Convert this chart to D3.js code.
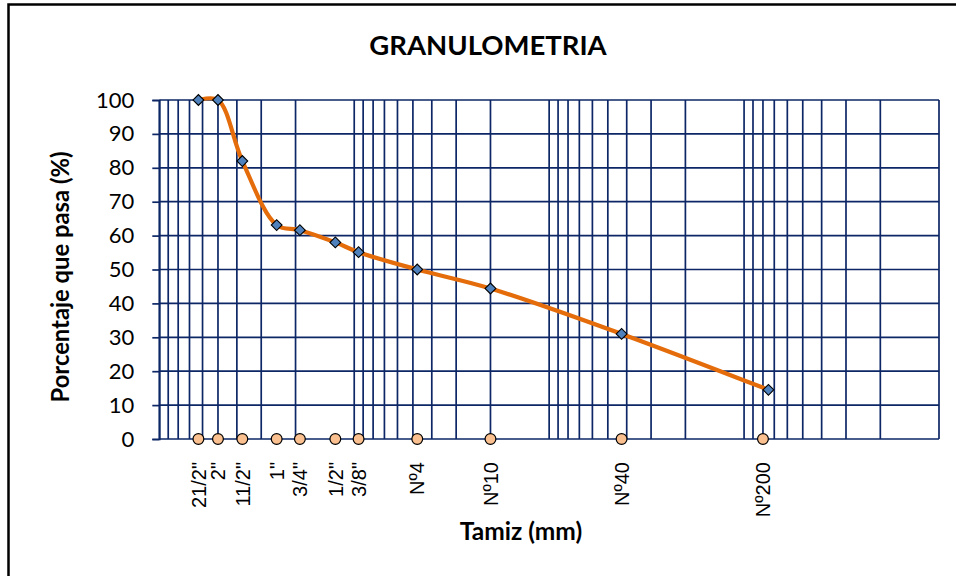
<!DOCTYPE html>
<html><head><meta charset="utf-8">
<script src="https://cdn.jsdelivr.net/npm/d3@7"></script>
<style>body{margin:0;background:#fff}svg{display:block}</style>
</head><body><svg id="c" width="956" height="576"></svg>
<script>
// ---- data ----
const sieveLabels = ['21/2"', '2"', '11/2"', '1"', '3/4"', '1/2"', '3/8"', 'Nº4', 'Nº10', 'Nº40', 'Nº200'];
const sieveSizes = [63, 50, 37.5, 25, 19, 12.5, 9.5, 4.75, 2.0, 0.425, 0.075];
const labelSizes = [63, 50, 37.5, 25, 19, 12.5, 9.5, 4.75, 2.0, 0.425, 0.08];
const percentPassing = [100, 100, 82, 63.1, 61.6, 58.0, 55.1, 50.0, 44.4, 31.0, 14.5];
const baseValues = [0, 0, 0, 0, 0, 0, 0, 0, 0, 0, 0];
const yTicks = [0, 10, 20, 30, 40, 50, 60, 70, 80, 90, 100];
const xDomain = [100, 0.01];
const yDomain = [0, 100];

// ---- layout ----
const svg = d3.select('#c');
const L = 159.3, R = 939, T = 100, B = 439;
const navy = '#0d2766';
const x = d3.scaleLog().domain(xDomain).range([L, R]);
const y = d3.scaleLinear().domain(yDomain).range([B, T]);

// outer frame (only top/left visible)
svg.append('rect').attr('x', 8.5).attr('y', 4.5).attr('width', 990).attr('height', 600)
  .attr('fill', '#fff').attr('stroke', '#000').attr('stroke-width', 2.5);

// vertical grid (log minor ticks)
svg.append('g').selectAll('line').data(x.ticks()).join('line')
  .attr('x1', d => x(d)).attr('x2', d => x(d)).attr('y1', T).attr('y2', B)
  .attr('stroke', navy).attr('stroke-width', 1.7);

// horizontal grid
svg.append('g').selectAll('line').data(yTicks).join('line')
  .attr('x1', L).attr('x2', R).attr('y1', d => y(d)).attr('y2', d => y(d))
  .attr('stroke', navy).attr('stroke-width', 1.7);

// y axis
const yAxis = svg.append('g').attr('transform', `translate(${L},0)`)
  .call(d3.axisLeft(y).tickValues(yTicks).tickSize(7).tickPadding(18));
yAxis.select('.domain').attr('stroke', navy).attr('stroke-width', 1.7);
yAxis.selectAll('.tick line').attr('stroke', navy).attr('stroke-width', 1.7);
yAxis.selectAll('.tick text').attr('font-family', 'Lato, sans-serif').attr('font-size', 22)
  .attr('fill', '#000');

// curve
const line = d3.line().x((d, i) => x(sieveSizes[i])).y(d => y(d)).curve(d3.curveCatmullRom.alpha(0.5));
svg.append('path').datum(percentPassing).attr('d', line)
  .attr('fill', 'none').attr('stroke', '#E46C0A').attr('stroke-width', 4.2);

// diamonds
const diamond = d3.symbol(d3.symbolSquare, 58);
svg.append('g').selectAll('path').data(percentPassing).join('path')
  .attr('d', diamond)
  .attr('transform', (d, i) => `translate(${x(sieveSizes[i])},${y(d)}) rotate(45)`)
  .attr('fill', '#4F81BD').attr('stroke', '#000').attr('stroke-width', 1.1);

// baseline circles
svg.append('g').selectAll('circle').data(baseValues).join('circle')
  .attr('cx', (d, i) => x(labelSizes[i])).attr('cy', d => y(d)).attr('r', 5.4)
  .attr('fill', '#FBC08F').attr('stroke', '#000').attr('stroke-width', 1.2);

// sieve labels
svg.append('g').selectAll('text').data(sieveLabels).join('text')
  .attr('transform', (d, i) => `translate(${x(labelSizes[i])},462) rotate(-90)`)
  .attr('text-anchor', 'end').attr('dy', '0.36em')
  .style('font-family', '"Liberation Sans", Arial, sans-serif').style('font-size', '20px')
  .style('font-weight', 'normal')
  .attr('fill', '#000').text(d => d);

// titles
svg.append('text').attr('x', 488).attr('y', 55).attr('text-anchor', 'middle')
  .attr('font-family', 'Lato, sans-serif').attr('font-weight', 'bold').attr('font-size', 27.5)
  .text('GRANULOMETRIA');
svg.append('text').attr('x', 521).attr('y', 540).attr('text-anchor', 'middle')
  .attr('font-family', 'Lato, sans-serif').attr('font-weight', 'bold').attr('font-size', 24.5)
  .text('Tamiz (mm)');
svg.append('text').attr('transform', 'translate(69,277) rotate(-90)').attr('text-anchor', 'middle')
  .attr('font-family', 'Lato, sans-serif').attr('font-weight', 'bold').attr('font-size', 23.8)
  .text('Porcentaje que pasa (%)');
</script></body></html>
